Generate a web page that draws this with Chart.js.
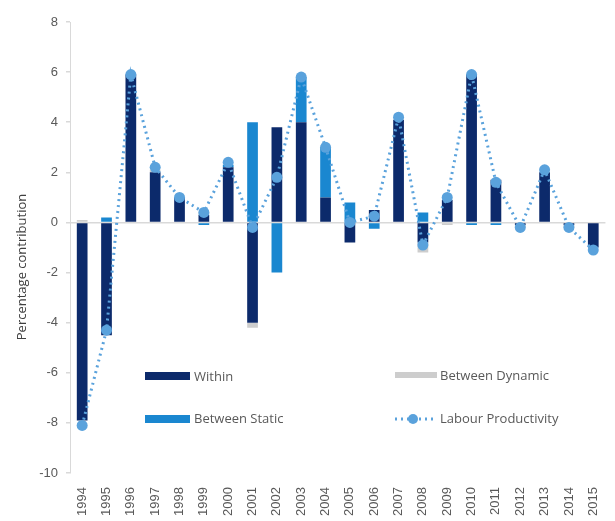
<!DOCTYPE html>
<html>
<head>
<meta charset="utf-8">
<script src="https://cdn.jsdelivr.net/npm/chart.js@4"></script>
<style>
	html, body { margin: 0; padding: 0; background: #fff; }
	#wrap { width: 615px; height: 521px; position: relative; }
</style>
</head>
<body>
<div id="wrap"><canvas id="chart" width="615" height="521"></canvas></div>
<script>
// Data
const years = ['1994', '1995', '1996', '1997', '1998', '1999', '2000', '2001', '2002', '2003', '2004',
	'2005', '2006', '2007', '2008', '2009', '2010', '2011', '2012', '2013', '2014', '2015'];
const within = [-7.9, -4.5, 5.9, 2.0, 1.0, 0.3, 2.2, -4.0, 3.8, 4.0, 1.0, -0.8, 0.5, 4.1, -0.8, 0.9, 5.9, 1.7, -0.1, 2.0, -0.1, -1.0];
const betweenStatic = [0, 0.2, 0, 0, 0, -0.1, 0.1, 4.0, -2.0, 1.8, 2.0, 0.8, -0.25, 0, 0.4, 0, -0.1, -0.1, 0, 0, 0, 0];
const betweenDynamic = [0.1, 0, 0, 0.1, 0, 0.1, 0, -0.2, 0, 0, 0, 0, 0, 0, -0.4, -0.1, 0, 0, -0.1, 0, -0.1, 0];
const labourProductivity = [-8.1, -4.3, 5.9, 2.2, 1.0, 0.4, 2.4, -0.2, 1.8, 5.8, 3.0, 0.0, 0.25, 4.2, -0.9, 1.0, 5.9, 1.6, -0.2, 2.1, -0.2, -1.1];
const yTicks = { min: -10, max: 8, step: 2 };

const NAVY = '#0c2a6b';
const BLUE = '#1a87d0';
const GREY = '#cdcdcd';
const LINE = '#5aa2dc';
const TEXT = '#595959';
const FONT = '"Open Sans", "Liberation Sans", sans-serif';
const TICK_FONT = '"Liberation Sans", Arial, sans-serif';

// Legend laid out in two columns inside the plot, plus the axis title
// (which sits a little below the middle in the original)
const legendPlugin = {
	id: 'innerLegend',
	afterDraw(chart) {
		const ctx = chart.ctx;
		ctx.save();
		ctx.font = `13px ${FONT}`;
		ctx.textBaseline = 'middle';

		ctx.fillStyle = NAVY;
		ctx.fillRect(145, 372, 45, 8);
		ctx.fillStyle = BLUE;
		ctx.fillRect(145, 415, 45, 8);
		ctx.fillStyle = GREY;
		ctx.fillRect(395, 372, 42, 6);

		// dotted line sample with marker
		ctx.strokeStyle = LINE;
		ctx.lineWidth = 3;
		ctx.setLineDash([2, 4]);
		ctx.beginPath();
		ctx.moveTo(395, 419);
		ctx.lineTo(437, 419);
		ctx.stroke();
		ctx.setLineDash([]);
		ctx.fillStyle = LINE;
		ctx.beginPath();
		ctx.arc(413, 419, 5, 0, Math.PI * 2);
		ctx.fill();

		ctx.fillStyle = TEXT;
		ctx.fillText('Within', 194, 377);
		ctx.fillText('Between Static', 194, 419);
		ctx.fillText('Between Dynamic', 440, 376);
		ctx.fillText('Labour Productivity', 440, 419);

		// y axis title
		ctx.translate(22, 267);
		ctx.rotate(-Math.PI / 2);
		ctx.textAlign = 'center';
		ctx.fillStyle = '#404040';
		ctx.fillText('Percentage contribution', 0, 0);
		ctx.restore();
	}
};

const barDefaults = {
	type: 'bar',
	order: 1,
	barPercentage: 0.55,
	categoryPercentage: 0.8,
	borderWidth: 0,
};

new Chart(document.getElementById('chart'), {
	data: {
		labels: years,
		datasets: [
			{ ...barDefaults, label: 'Within', data: within, backgroundColor: NAVY },
			{ ...barDefaults, label: 'Between Static', data: betweenStatic, backgroundColor: BLUE },
			{ ...barDefaults, label: 'Between Dynamic', data: betweenDynamic, backgroundColor: GREY },
			{
				type: 'line',
				order: 0,
				label: 'Labour Productivity',
				data: labourProductivity,
				borderColor: LINE,
				backgroundColor: LINE,
				borderWidth: 3,
				borderDash: [2, 4],
				pointRadius: 5.5,
				pointBorderWidth: 0,
				pointBackgroundColor: LINE,
				tension: 0,
				fill: false,
			}
		]
	},
	options: {
		responsive: false,
		animation: false,
		layout: { padding: { top: 22, right: 0, bottom: 4, left: 0 } },
		plugins: {
			legend: { display: false },
			tooltip: { enabled: false }
		},
		scales: {
			x: {
				stacked: true,
				grid: { display: false },
				border: { display: false },
				ticks: {
					color: TEXT,
					font: { family: TICK_FONT, size: 13 },
					minRotation: 90,
					maxRotation: 90,
					padding: 6,
				},
				afterFit(scale) { scale.height = 44; }
			},
			y: {
				stacked: true,
				min: yTicks.min,
				max: yTicks.max,
				ticks: {
					stepSize: yTicks.step,
					color: TEXT,
					font: { family: TICK_FONT, size: 13 },
					padding: 8,
				},
				grid: {
					color: ctx => (ctx.tick && ctx.tick.value === 0 ? '#d9d9d9' : 'rgba(0,0,0,0)'),
					tickColor: '#d9d9d9',
					tickLength: 4,
					lineWidth: 1.5,
				},
				border: { color: '#d9d9d9', width: 1 },
				afterFit(scale) { scale.width = 70; }
			}
		}
	},
	plugins: [legendPlugin]
});
</script>
</body>
</html>
